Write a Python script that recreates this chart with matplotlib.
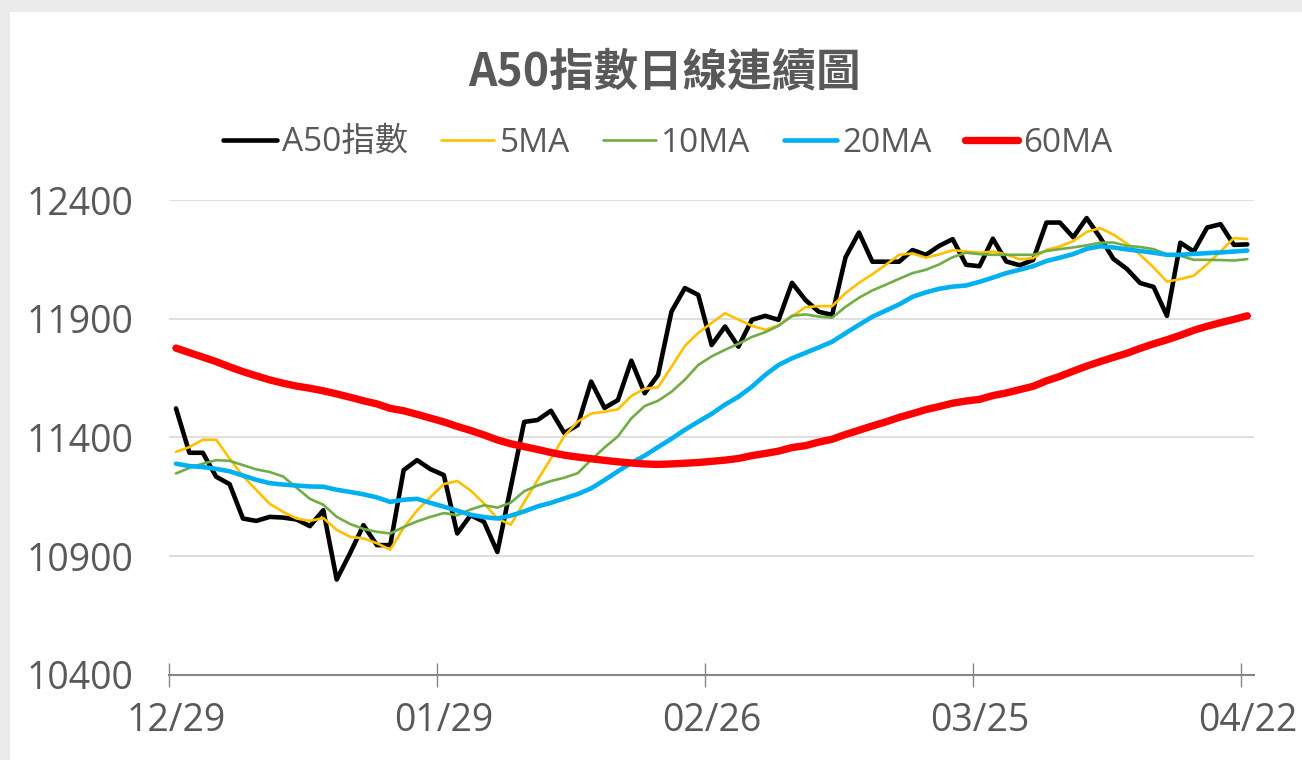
import matplotlib
matplotlib.use('Agg')
import matplotlib.pyplot as plt
from matplotlib.patches import Rectangle
from matplotlib.ticker import FixedLocator, NullFormatter

plt.rcParams['font.family'] = ['Open Sans', 'Noto Sans CJK TC', 'DejaVu Sans']

# ---------------- data ----------------
title = 'A50指數日線連續圖'
series_names = ['A50指數', '5MA', '10MA', '20MA', '60MA']
tick_labels = ['12/29', '01/29', '02/26', '03/25', '04/22']
tick_index = [0, 20, 40, 60, 80]

a50 = [11522, 11335, 11335, 11234, 11203, 11058, 11048, 11065, 11062, 11054,
       11026, 11093, 10801, 10912, 11030, 10946, 10946, 11262, 11304, 11266,
       11241, 10995, 11072, 11044, 10917, 11190, 11465, 11473, 11512, 11418,
       11452, 11635, 11524, 11557, 11723, 11586, 11663, 11930, 12029, 12000,
       11789, 11867, 11782, 11895, 11912, 11895, 12051, 11979, 11929, 11916,
       12159, 12263, 12140, 12140, 12140, 12189, 12169, 12207, 12235, 12127,
       12121, 12237, 12141, 12125, 12147, 12305, 12305, 12243, 12324, 12243,
       12152, 12110, 12050, 12034, 11912, 12220, 12183, 12284, 12298, 12211,
       12213]

ma5 = [11339, 11359, 11390, 11390, 11311, 11237, 11178, 11120, 11086, 11058,
       11048, 11060, 11010, 10981, 10974, 10954, 10927, 11019, 11092, 11148,
       11203, 11216, 11176, 11122, 11058, 11032, 11127, 11220, 11311, 11406,
       11466, 11500, 11508, 11518, 11574, 11605, 11611, 11697, 11785, 11840,
       11882, 11923, 11896, 11870, 11853, 11872, 11910, 11948, 11953, 11953,
       12008, 12051, 12087, 12127, 12169, 12175, 12157, 12171, 12189, 12183,
       12178, 12183, 12171, 12150, 12155, 12190, 12204, 12227, 12265, 12282,
       12254, 12217, 12169, 12116, 12056, 12067, 12081, 12129, 12183, 12240,
       12235]

ma10 = [11248, 11271, 11289, 11304, 11301, 11283, 11265, 11254, 11235, 11188,
        11141, 11116, 11065, 11035, 11014, 11002, 10995, 11022, 11046, 11065,
        11081, 11072, 11096, 11114, 11104, 11125, 11173, 11197, 11216, 11230,
        11249, 11305, 11357, 11404, 11480, 11532, 11554, 11592, 11643, 11705,
        11741, 11769, 11794, 11823, 11843, 11870, 11912, 11918, 11909, 11904,
        11950, 11988, 12019, 12043, 12068, 12092, 12106, 12129, 12159, 12178,
        12172, 12169, 12169, 12169, 12169, 12185, 12193, 12200, 12209, 12220,
        12221, 12207, 12202, 12193, 12171, 12165, 12148, 12148, 12147, 12145,
        12151]

ma20 = [11289, 11279, 11275, 11267, 11257, 11239, 11221, 11207, 11201, 11197,
        11193, 11192, 11179, 11170, 11160, 11147, 11128, 11137, 11141, 11124,
        11108, 11091, 11074, 11064, 11058, 11070, 11088, 11109, 11124, 11143,
        11161, 11185, 11220, 11257, 11292, 11323, 11359, 11394, 11432, 11466,
        11499, 11538, 11571, 11613, 11663, 11705, 11733, 11756, 11779, 11803,
        11839, 11874, 11908, 11934, 11960, 11992, 12011, 12026, 12035, 12040,
        12055, 12073, 12092, 12106, 12121, 12143, 12157, 12172, 12194, 12205,
        12200, 12192, 12185, 12178, 12169, 12169, 12173, 12176, 12179, 12183,
        12187]

ma60 = [11776, 11757, 11738, 11719, 11697, 11677, 11659, 11642, 11628, 11616,
        11607, 11596, 11583, 11569, 11554, 11541, 11522, 11512, 11497, 11481,
        11465, 11446, 11429, 11410, 11389, 11373, 11361, 11349, 11336, 11325,
        11317, 11310, 11303, 11297, 11292, 11288, 11286, 11288, 11291, 11294,
        11299, 11304, 11311, 11323, 11332, 11342, 11357, 11365, 11380, 11392,
        11412, 11430, 11448, 11465, 11484, 11500, 11517, 11530, 11544, 11553,
        11560, 11576, 11587, 11601, 11615, 11638, 11657, 11679, 11700, 11719,
        11737, 11754, 11775, 11794, 11811, 11830, 11851, 11868, 11883, 11897,
        11912]

y_ticks = [10400, 10900, 11400, 11900, 12400]

# ---------------- styling ----------------
colors = ['#000000', '#FFC000', '#70AD47', '#00B0F0', '#FF0000']
widths = [3.3, 1.9, 1.9, 3.3, 5.3]
text_color = '#595959'

fig = plt.figure(figsize=(13.02, 7.6), dpi=100)
fig.patch.set_facecolor('#EBEBEB')
bg = Rectangle((10 / 1302, 0), 1, 1 - 12 / 760, transform=fig.transFigure,
               facecolor='white', edgecolor='none', zorder=-10)
fig.add_artist(bg)

ax = fig.add_axes([169.3 / 1302, 1 - 674.7 / 760,
                   (1254 - 169.3) / 1302, (674.7 - 200) / 760])
ax.set_facecolor('none')
ax.set_zorder(1)

x = list(range(len(a50)))
all_series = [a50, ma5, ma10, ma20, ma60]
for k, (name, vals) in enumerate(zip(series_names, all_series)):
    ax.plot(x, vals, color=colors[k], lw=widths[k], label=name,
            solid_capstyle='round', solid_joinstyle='round', zorder=3 + k)

ax.set_xlim(-0.5, len(a50) - 0.5)
ax.set_ylim(y_ticks[0], y_ticks[-1])
ax.set_yticks(y_ticks)
ax.set_yticklabels([str(v) for v in y_ticks])
ax.tick_params(axis='y', length=0, pad=26, labelsize=27, labelcolor=text_color)
ax.yaxis.grid(True, color='#D9D9D9', lw=1.2, zorder=0)
ax.set_axisbelow(True)

# major ticks at category boundaries, labels at categories
ax.xaxis.set_major_locator(FixedLocator([i - 0.5 for i in tick_index]))
ax.xaxis.set_major_formatter(NullFormatter())
ax.xaxis.set_minor_locator(FixedLocator(tick_index))
ax.set_xticklabels(tick_labels, minor=True)
ax.tick_params(axis='x', which='major', direction='inout', length=17,
               width=1.0, color='#868686')
ax.tick_params(axis='x', which='minor', length=0, pad=20, labelsize=27,
               labelcolor=text_color)

for s in ['top', 'right', 'left']:
    ax.spines[s].set_visible(False)
ax.spines['bottom'].set_color('#868686')
ax.spines['bottom'].set_linewidth(1.5)
ax.spines['bottom'].set_zorder(10)

fig.text(664 / 1302, 1 - 72 / 760, title, ha='center', va='center',
         fontsize=32, fontweight='bold', color=text_color,
         family=['Noto Sans CJK TC', 'DejaVu Sans'])

leg = fig.legend(loc='center', bbox_to_anchor=(668 / 1302, 1 - 143 / 760),
                 ncol=5, frameon=False, handlelength=1.6,
                 handletextpad=0.15, columnspacing=1.0,
                 prop={'family': ['Open Sans', 'Noto Sans CJK TC'], 'size': 24})
for t in leg.get_texts():
    t.set_color(text_color)

fig.savefig('out.png', dpi=100, facecolor=fig.get_facecolor())
